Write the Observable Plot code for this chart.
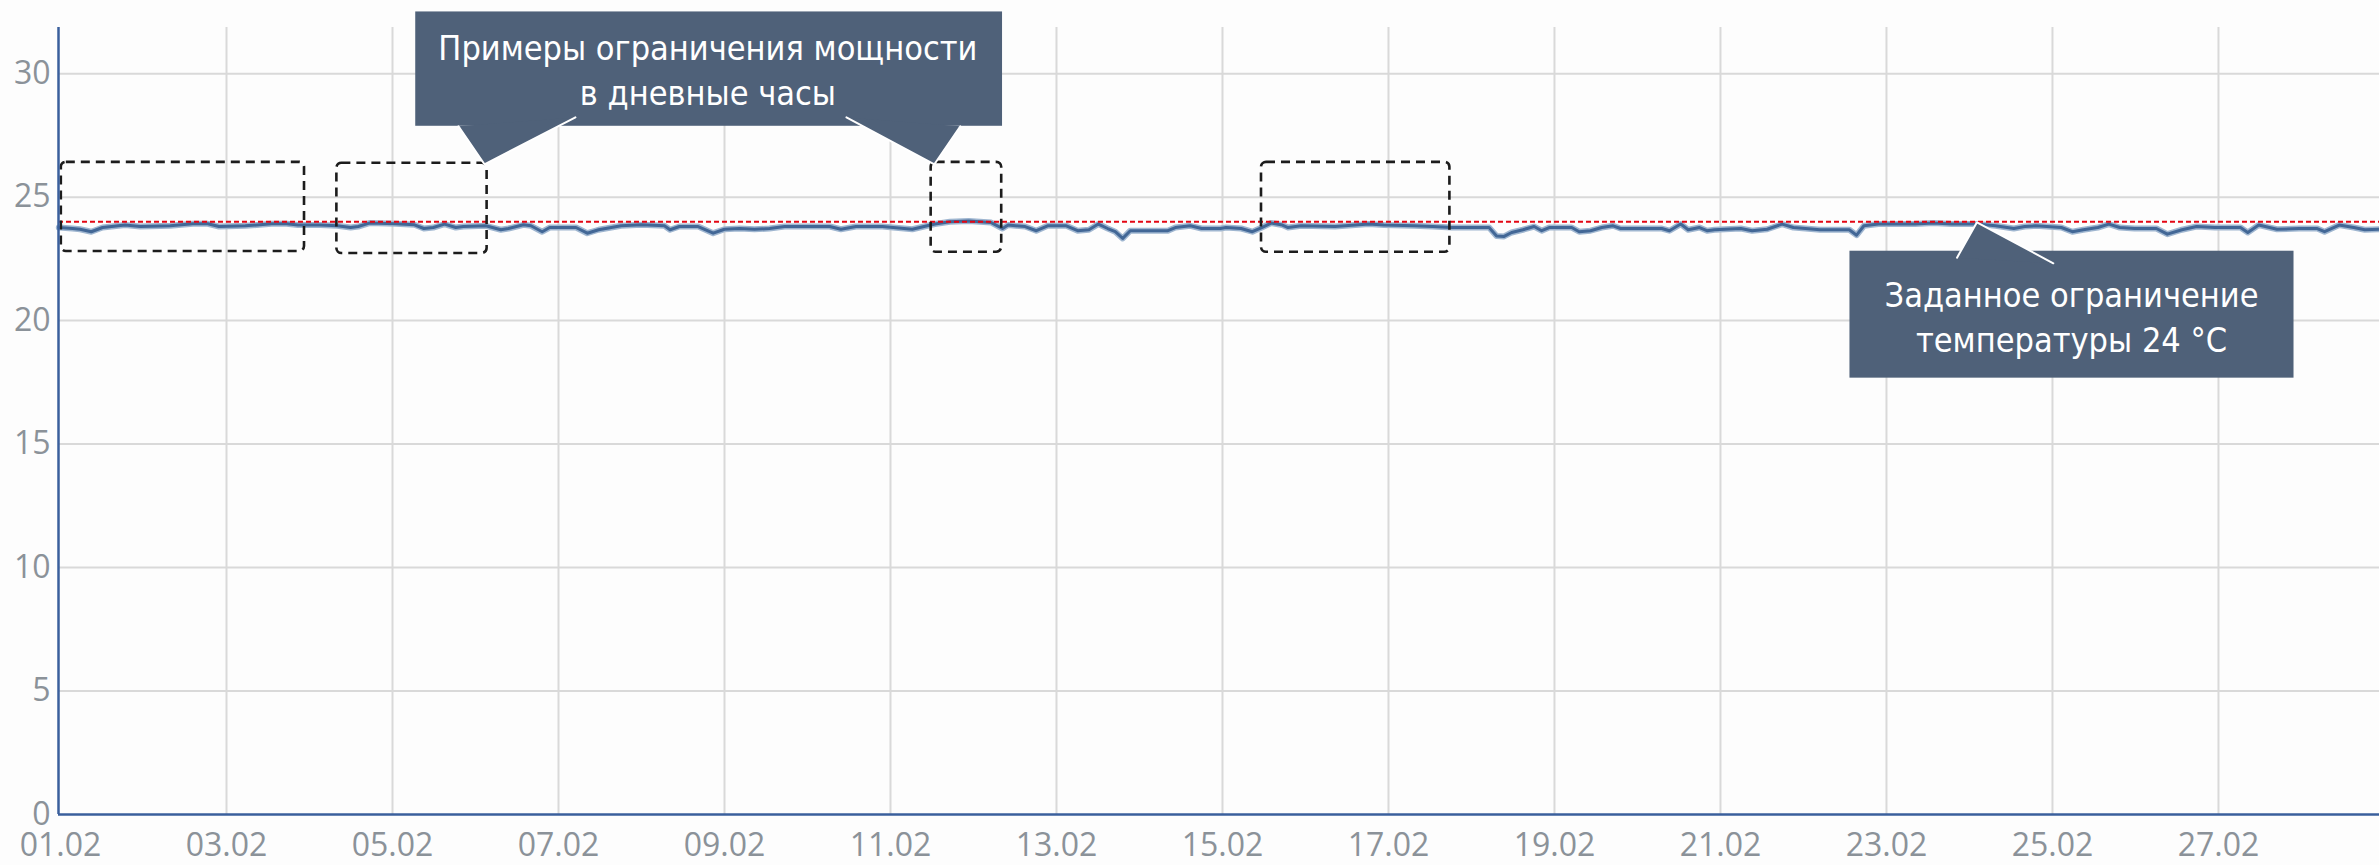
<!DOCTYPE html>
<html>
<head>
<meta charset="utf-8">
<script src="https://cdn.jsdelivr.net/npm/d3@7"></script>
<script src="https://cdn.jsdelivr.net/npm/@observablehq/plot@0.6"></script>
<style>
  html, body { margin: 0; padding: 0; background: #fdfdfd; }
  svg { display: block; }
</style>
</head>
<body>
<div id="chart"></div>
<script>
// ---------- data ----------
const year = 2021;
const xTickLabels = ["01.02","03.02","05.02","07.02","09.02","11.02","13.02","15.02","17.02","19.02","21.02","23.02","25.02","27.02"];
const yTicks = [0, 5, 10, 15, 20, 25, 30];
const setpoint = 24;

// offsets in days from 01.02 00:00 and measured temperature (°C)
const dayOffsets = [-0.02,0.145,0.236,0.371,0.507,0.779,0.96,1.322,1.594,1.775,1.91,2.227,2.544,2.725,2.861,3.133,3.336,3.495,3.586,3.721,4.038,4.265,4.378,4.491,4.627,4.763,4.853,5.125,5.306,5.397,5.578,5.668,5.804,5.894,6.211,6.347,6.483,6.755,7.0,
7.276,7.344,7.457,7.683,7.864,8.0,8.181,8.362,8.543,8.724,9.041,9.268,9.403,9.584,9.901,10.263,10.444,10.535,10.716,10.942,11.214,11.35,11.418,11.622,11.757,11.893,12.119,12.255,12.391,12.504,12.617,12.708,12.798,12.889,13.342,13.432,13.613,13.749,13.976,14.043,
14.224,14.36,14.473,14.586,14.722,14.79,14.948,15.356,15.763,15.944,16.307,16.533,16.759,17.212,17.302,17.393,17.484,17.619,17.755,17.846,17.936,18.208,18.298,18.434,18.57,18.706,18.796,19.294,19.385,19.521,19.611,19.747,19.838,19.928,20.245,20.381,20.562,20.743,20.879,21.023,
21.199,21.375,21.552,21.64,21.728,21.904,22.345,22.565,22.785,23.093,23.314,23.534,23.666,23.798,24.107,24.239,24.371,24.547,24.679,24.811,24.988,25.252,25.384,25.56,25.736,25.956,26.265,26.353,26.485,26.705,26.97,27.19,27.278,27.454,27.63,27.763,27.95];
const temperatures = [23.77,23.73,23.70,23.60,23.77,23.87,23.81,23.84,23.92,23.92,23.81,23.84,23.92,23.92,23.87,23.87,23.84,23.77,23.81,23.95,23.92,23.88,23.73,23.77,23.91,23.77,23.81,23.84,23.68,23.73,23.88,23.84,23.60,23.77,23.77,23.54,23.68,23.84,23.88,
23.84,23.68,23.81,23.81,23.54,23.70,23.73,23.70,23.73,23.81,23.81,23.81,23.70,23.81,23.81,23.70,23.84,23.91,24.00,24.03,23.97,23.73,23.87,23.81,23.64,23.84,23.84,23.64,23.68,23.91,23.73,23.60,23.33,23.64,23.64,23.77,23.84,23.73,23.73,23.77,
23.73,23.60,23.77,23.95,23.87,23.77,23.84,23.81,23.91,23.87,23.84,23.81,23.77,23.77,23.43,23.41,23.57,23.68,23.81,23.64,23.77,23.77,23.60,23.64,23.77,23.84,23.73,23.73,23.64,23.91,23.68,23.77,23.64,23.68,23.73,23.64,23.70,23.91,23.77,23.73,
23.68,23.68,23.68,23.46,23.84,23.91,23.91,23.95,23.91,23.91,23.84,23.73,23.81,23.84,23.77,23.60,23.68,23.77,23.91,23.77,23.73,23.73,23.50,23.68,23.81,23.77,23.77,23.57,23.87,23.70,23.73,23.73,23.60,23.87,23.77,23.68,23.70];

// dashed highlight boxes (days, °C)
const boxStartDays = [0.01, 3.33, 10.49, 14.47];
const boxEndDays   = [2.94, 5.14, 11.34, 16.74];
const boxLow       = [22.80, 22.72, 22.77, 22.77];
const boxHigh      = [26.41, 26.37, 26.41, 26.41];

// callout boxes (days, °C)
const calloutStartDays = [4.28, 21.56];
const calloutEndDays   = [11.35, 26.91];
const calloutTop       = [32.5, 22.81];
const calloutBottom    = [27.87, 17.67];

// callout pointers: id, day, value (base, tip, base)
const pointerIds    = ["a","a","a","b","b","b","c","c","c"];
const pointerDays   = [4.795, 5.108, 6.204, 9.469, 10.529, 10.842, 22.85, 23.09, 24.01];
const pointerValues = [27.87, 26.33, 28.23, 28.23, 26.33, 27.87, 22.55, 23.98, 22.32];

// callout text lines
const calloutLines  = ["Примеры ограничения мощности", "в дневные часы", "Заданное ограничение", "температуры 24 °C"];
const calloutLineDays   = [7.80, 7.80, 24.23, 24.23];
const calloutLineValues = [30.98, 29.16, 20.98, 19.16];

// ---------- helpers ----------
const t0 = Date.UTC(year, 1, 1);
const toDate = d => new Date(t0 + d * 864e5);
const parseLabel = s => { const [dd, mm] = s.split(".").map(Number); return new Date(Date.UTC(year, mm - 1, dd)); };

const series = dayOffsets.map((d, i) => ({date: toDate(d), t: temperatures[i]}));
const tickDates = xTickLabels.map(parseLabel);
const boxes = boxStartDays.map((d, i) => ({x1: toDate(d), x2: toDate(boxEndDays[i]), y1: boxLow[i], y2: boxHigh[i]}));
const callouts = calloutStartDays.map((d, i) => ({x1: toDate(d), x2: toDate(calloutEndDays[i]), y1: calloutBottom[i], y2: calloutTop[i]}));
const pointers = pointerIds.map((id, i) => ({id, x: toDate(pointerDays[i]), y: pointerValues[i]}));
const lines = calloutLines.map((s, i) => ({s, x: toDate(calloutLineDays[i]), y: calloutLineValues[i]}));

const xDomain = [toDate(-0.024), toDate(27.94)];
const calloutFill = "#4f6179";
const calloutFont = "'Liberation Sans Narrow', 'DejaVu Sans Condensed', 'Arial Narrow', sans-serif";

const chart = Plot.plot({
  width: 2379,
  height: 865,
  marginLeft: 58,
  marginRight: 0,
  marginTop: 27,
  marginBottom: 51,
  style: {background: "#fdfdfd", color: "#8b9299", fontFamily: "'Open Sans', sans-serif", fontSize: "33px", overflow: "visible"},
  x: {type: "utc", domain: xDomain},
  y: {domain: [0, 31.87]},
  marks: [
    Plot.gridY(yTicks.filter(v => v > 0), {stroke: "#d9d9d9", strokeOpacity: 1, strokeWidth: 2}),
    Plot.gridX(tickDates.slice(1), {stroke: "#d9d9d9", strokeOpacity: 1, strokeWidth: 2}),
    Plot.axisY(yTicks, {tickSize: 0, tickPadding: 8, label: null, fontSize: 32}),
    Plot.axisX(tickDates, {tickSize: 0, tickPadding: 19, label: null, fontSize: 32, tickFormat: d3.utcFormat("%d.%m")}),
    // shadow + halo + core of the measured line
    Plot.line(series, {x: "date", y: "t", stroke: "#5f5f5f", strokeWidth: 5, strokeOpacity: 0.55, dy: 4, ariaLabel: "shadow"}),
    Plot.line(series, {x: "date", y: "t", stroke: "#9fb6d0", strokeWidth: 6}),
    Plot.line(series, {x: "date", y: "t", stroke: "#426796", strokeWidth: 3}),
    Plot.ruleY([setpoint], {stroke: "#e30613", strokeWidth: 2, strokeDasharray: "5,3"}),
    Plot.rect(boxes, {x1: "x1", x2: "x2", y1: "y1", y2: "y2", fill: "none", stroke: "#1c1c1c", strokeWidth: 2.6, strokeDasharray: "9,6", rx: 5}),
    Plot.ruleX([xDomain[0]], {stroke: "#3a5f9c", strokeWidth: 2.5}),
    Plot.ruleY([0], {stroke: "#3a5f9c", strokeWidth: 2.5}),
    Plot.rect(callouts, {x1: "x1", x2: "x2", y1: "y1", y2: "y2", fill: calloutFill}),
    Plot.line(pointers, {x: "x", y: "y", z: "id", fill: calloutFill, stroke: "#ffffff", strokeWidth: 2, strokeLinejoin: "miter"}),
    Plot.text(lines, {x: "x", y: "y", text: "s", fill: "#ffffff", fontSize: 34, fontFamily: calloutFont, textAnchor: "middle", ariaLabel: "callout-text"})
  ]
});

// blur the shadow
const svg = d3.select(chart);
const defs = svg.insert("defs", ":first-child");
defs.append("filter").attr("id", "shadowBlur").attr("x", "-5%").attr("y", "-200%").attr("width", "110%").attr("height", "500%")
  .append("feGaussianBlur").attr("stdDeviation", 2);
svg.selectAll('g[aria-label="shadow"]').attr("filter", "url(#shadowBlur)");

document.getElementById("chart").appendChild(chart);
</script>
</body>
</html>
